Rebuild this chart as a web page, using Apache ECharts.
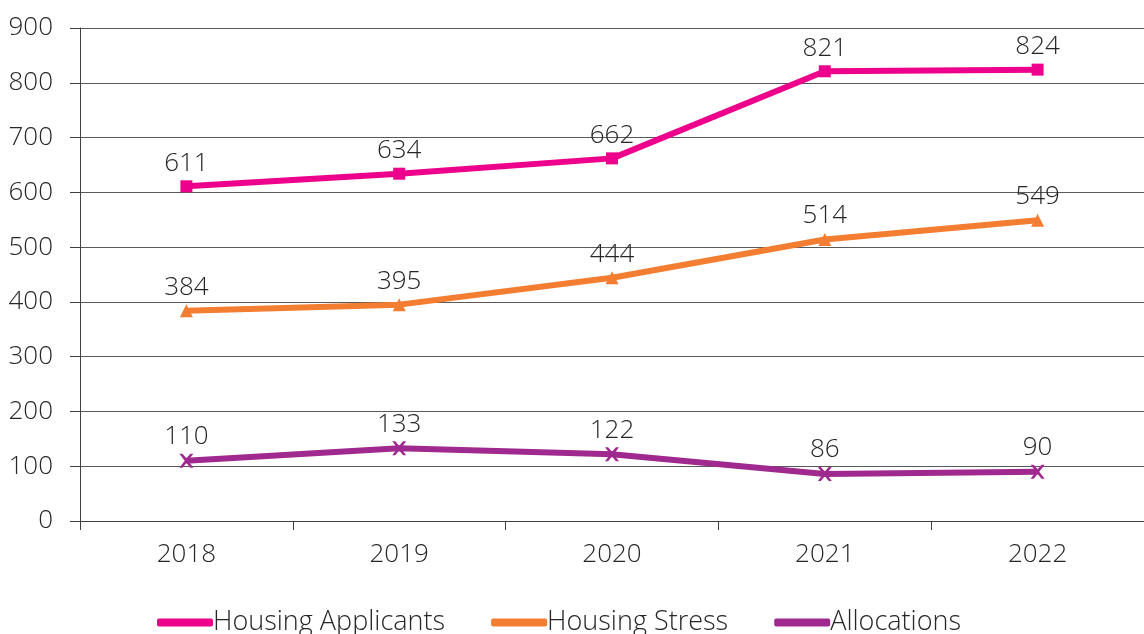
<!DOCTYPE html>
<html><head><meta charset="utf-8">
<script src="https://cdn.jsdelivr.net/npm/echarts@6/dist/echarts.min.js"></script>
<style>html,body{margin:0;padding:0;background:#fff}#c{width:1144px;height:634px}</style>
</head><body><div id="c"></div>
<script>
const categories = ['2018','2019','2020','2021','2022'];
const applicants = [611,634,662,821,824];
const stress = [384,395,444,514,549];
const allocations = [110,133,122,86,90];
const yTicks = [0,100,200,300,400,500,600,700,800,900];

const FONT = '"Open Sans"';
const FW = 300;
const FS = 26;
const TXT = '#262626';
const xPath = 'path://M0,0 L2.2,0 L5,3.3 L7.8,0 L10,0 L6.2,5 L10,10 L7.8,10 L5,6.7 L2.2,10 L0,10 L3.8,5 Z';

function mk(name, data, color, symbol, size) {
  return {
    name, type: 'line', data,
    lineStyle: {color, width: 6},
    itemStyle: {color},
    symbol, symbolSize: size, showSymbol: true,
    label: {show: true, position: 'top', distance: 4, color: TXT, fontFamily: FONT, fontWeight: FW, fontSize: FS},
    z: 3
  };
}

const chart = echarts.init(document.getElementById('c'));
chart.setOption({
  animation: false,
  grid: {left: 80, right: -4, top: 28, bottom: 113, containLabel: false},
  legend: {
    bottom: -7, left: 152, itemGap: 46, itemWidth: 56, itemHeight: 8,
    icon: 'roundRect',
    textStyle: {fontFamily: FONT, fontWeight: FW, fontSize: 27, color: TXT, padding: [0,0,0,-5]},
    data: ['Housing Applicants','Housing Stress','Allocations']
  },
  xAxis: {
    type: 'category', data: categories, boundaryGap: true,
    axisLine: {lineStyle: {color: '#404040', width: 1}},
    axisTick: {show: true, length: 9, lineStyle: {color: '#404040'}},
    axisLabel: {color: TXT, fontFamily: FONT, fontWeight: FW, fontSize: FS, margin: 21},
    splitLine: {show: false}
  },
  yAxis: {
    type: 'value', min: 0, max: 900, interval: 100,
    axisLine: {show: true, lineStyle: {color: '#404040', width: 1}},
    axisTick: {show: true, length: 10, lineStyle: {color: '#404040'}},
    axisLabel: {color: TXT, fontFamily: FONT, fontWeight: FW, fontSize: FS, margin: 27,
      formatter: v => yTicks.includes(v) ? String(v) : ''},
    splitLine: {show: true, lineStyle: {color: '#595959', width: 1}}
  },
  series: [
    mk('Housing Applicants', applicants, '#EC008C', 'rect', 12),
    mk('Housing Stress', stress, '#F37E32', 'triangle', 13),
    mk('Allocations', allocations, '#A0298F', xPath, 14)
  ]
});
</script></body></html>
